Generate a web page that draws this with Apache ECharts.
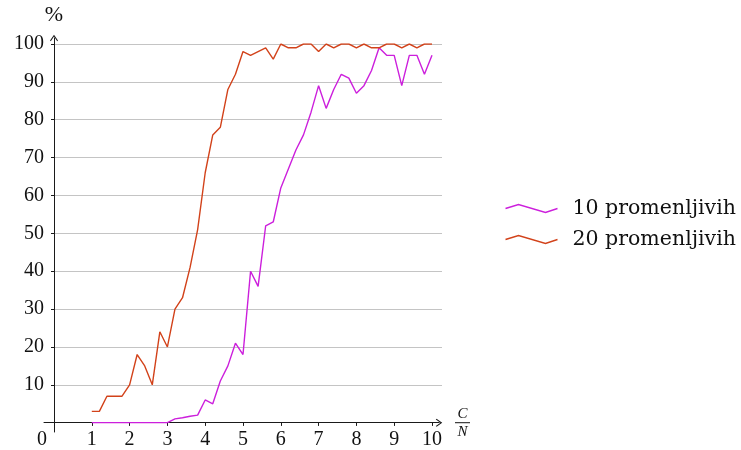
<!DOCTYPE html>
<html>
<head>
<meta charset="utf-8">
<script src="https://cdn.jsdelivr.net/npm/echarts@6/dist/echarts.min.js"></script>
<style>
  html, body { margin: 0; padding: 0; background: #fff; }
  #chart { width: 741px; height: 450px; }
</style>
</head>
<body>
<div id="chart"></div>
<script>
// Ratio of clauses to variables (C/N)
const ratio = [1.0, 1.2, 1.4, 1.6, 1.8, 2.0, 2.2, 2.4, 2.6, 2.8,
               3.0, 3.2, 3.4, 3.6, 3.8, 4.0, 4.2, 4.4, 4.6, 4.8,
               5.0, 5.2, 5.4, 5.6, 5.8, 6.0, 6.2, 6.4, 6.6, 6.8,
               7.0, 7.2, 7.4, 7.6, 7.8, 8.0, 8.2, 8.4, 8.6, 8.8,
               9.0, 9.2, 9.4, 9.6, 9.8, 10.0];

// Percentage for 10 variables
const vars10 = [0, 0, 0, 0, 0, 0, 0, 0, 0, 0,
                0, 1, 1.3, 1.7, 2, 6, 5, 11, 15, 21,
                18, 40, 36, 52, 53, 62, 67, 72, 76, 82,
                89, 83, 88, 92, 91, 87, 89, 93, 99, 97,
                97, 89, 97, 97, 92, 97];

// Percentage for 20 variables
const vars20 = [3, 3, 7, 7, 7, 10, 18, 15, 10, 24,
                20, 30, 33, 41, 51, 66, 76, 78, 88, 92,
                98, 97, 98, 99, 96, 100, 99, 99, 100, 100,
                98, 100, 99, 100, 100, 99, 100, 99, 99, 100,
                100, 99, 100, 99, 100, 100];

const seriesNames = ['10 promenljivih', '20 promenljivih'];
const seriesColors = ['#cc1fdc', '#d2421a'];

const xRange = [0, 10];
const yRange = [0, 100];
const xStep = 1;
const yStep = 10;

// Layout in pixels
const plotLeft = 54, plotRight = 432, plotTop = 44, plotBottom = 422.7;
const axisXStart = 44, axisXEnd = 439;      // horizontal axis line extent
const axisYStart = 432, axisYEnd = 38;      // vertical axis line extent (bottom, top)
const gridExtraRight = 442;                 // grid lines run a little past the last tick

const pxPerX = (plotRight - plotLeft) / (xRange[1] - xRange[0]);
const pxPerY = (plotBottom - plotTop) / (yRange[1] - yRange[0]);

const font = '"Liberation Serif", "DejaVu Serif", serif';
const legendFont = '"DejaVu Serif", "Liberation Serif", serif';
const textColor = '#111';
const axisColor = '#1a1a1a';

const pairs = (ys) => ratio.map((x, i) => [x, ys[i]]);

// Open chevron used as arrow head
const arrowHead = 'path://M5,0 L10,7 L9,8 L5,2.2 L1,8 L0,7 Z';

const chart = echarts.init(document.getElementById('chart'), null, { renderer: 'canvas' });

const option = {
  animation: false,
  backgroundColor: '#fff',
  grid: [
    { left: plotLeft, top: plotTop, width: plotRight - plotLeft, height: plotBottom - plotTop, outerBoundsMode: 'none' },
    { left: plotLeft, top: plotTop, width: gridExtraRight - plotLeft, height: plotBottom - plotTop, outerBoundsMode: 'none' },
    { left: axisXStart, top: axisYEnd, width: axisXEnd - axisXStart, height: axisYStart - axisYEnd, outerBoundsMode: 'none' }
  ],
  xAxis: [
    {
      gridIndex: 0, type: 'value', min: xRange[0], max: xRange[1], interval: xStep,
      axisLine: { show: false },
      axisTick: { show: true, inside: false, length: 3, lineStyle: { color: axisColor, width: 1 } },
      axisLabel: {
        show: true, margin: 7, color: textColor, fontFamily: font, fontSize: 20,
        formatter: (v) => v === 0 ? '{z|0}' : String(v),
        rich: { z: { padding: [0, 24, 0, 0], fontFamily: font, fontSize: 20, color: textColor } }
      },
      splitLine: { show: false }
    },
    {
      gridIndex: 0, type: 'value', min: xRange[0], max: xRange[1], interval: xStep,
      axisLine: { show: false },
      axisTick: { show: true, inside: true, length: 3, lineStyle: { color: axisColor, width: 1 } },
      axisLabel: { show: false }, splitLine: { show: false }
    },
    {
      gridIndex: 1, type: 'value', min: xRange[0],
      max: xRange[0] + (gridExtraRight - plotLeft) / pxPerX,
      show: false
    },
    {
      gridIndex: 2, type: 'value',
      min: xRange[0] - (plotLeft - axisXStart) / pxPerX,
      max: xRange[0] + (axisXEnd - plotLeft) / pxPerX,
      axisLine: {
        show: true, onZero: true, symbol: ['none', arrowHead], symbolSize: [8, 8],
        lineStyle: { color: axisColor, width: 1 }
      },
      axisTick: { show: false }, axisLabel: { show: false }, splitLine: { show: false },
      name: '{c|C}\n{bar|}\n{n|N}',
      nameLocation: 'end', nameGap: 16,
      nameTextStyle: {
        align: 'left', verticalAlign: 'middle',
        rich: {
          c: { fontFamily: font, fontStyle: 'italic', fontSize: 15, color: textColor, align: 'center', lineHeight: 14 },
          bar: { width: 15, height: 1, backgroundColor: textColor, lineHeight: 4, align: 'center' },
          n: { fontFamily: font, fontStyle: 'italic', fontSize: 15, color: textColor, align: 'center', lineHeight: 14 }
        }
      }
    }
  ],
  yAxis: [
    {
      gridIndex: 0, type: 'value', min: yRange[0], max: yRange[1], interval: yStep,
      axisLine: { show: false },
      axisTick: { show: true, inside: false, length: 3, lineStyle: { color: axisColor, width: 1 } },
      axisLabel: {
        show: true, margin: 10, color: textColor, fontFamily: font, fontSize: 20,
        formatter: (v) => v === 0 ? '' : String(v)
      },
      splitLine: { show: false }
    },
    {
      gridIndex: 0, type: 'value', min: yRange[0], max: yRange[1], interval: yStep,
      axisLine: { show: false },
      axisTick: { show: true, inside: true, length: 3, lineStyle: { color: axisColor, width: 1 } },
      axisLabel: { show: false }, splitLine: { show: false }
    },
    {
      gridIndex: 1, type: 'value', min: yRange[0], max: yRange[1], interval: yStep,
      axisLine: { show: false }, axisTick: { show: false }, axisLabel: { show: false },
      splitLine: { show: true, lineStyle: { color: '#c4c4c4', width: 1 } }
    },
    {
      gridIndex: 2, type: 'value',
      min: yRange[0] - (axisYStart - plotBottom) / pxPerY,
      max: yRange[0] + (plotBottom - axisYEnd) / pxPerY,
      axisLine: {
        show: true, onZero: true, symbol: ['none', arrowHead], symbolSize: [8, 8],
        lineStyle: { color: axisColor, width: 1 }
      },
      axisTick: { show: false }, axisLabel: { show: false }, splitLine: { show: false },
      name: '%', nameLocation: 'end', nameGap: 12,
      nameTextStyle: { fontFamily: font, fontSize: 22, color: textColor, align: 'center', verticalAlign: 'bottom' }
    }
  ],
  legend: {
    orient: 'vertical',
    left: 503, top: 198, padding: 0,
    itemWidth: 54, itemHeight: 8, itemGap: 10,
    selectedMode: false,
    textStyle: { fontFamily: legendFont, fontSize: 20.5, color: textColor, padding: [0, 0, 0, 9] },
    data: seriesNames.map((name, i) => ({
      name: name,
      icon: 'path://M0,4 L13,0 L40,8 L52,4 L40,8 L13,0 Z',
      itemStyle: { color: 'none', borderColor: seriesColors[i], borderWidth: 1.4 }
    }))
  },
  series: [
    {
      name: seriesNames[0], type: 'line', xAxisIndex: 0, yAxisIndex: 0,
      data: pairs(vars10), showSymbol: false, symbol: 'none',
      color: seriesColors[0],
      lineStyle: { color: seriesColors[0], width: 1.4 }, z: 3
    },
    {
      name: seriesNames[1], type: 'line', xAxisIndex: 0, yAxisIndex: 0,
      data: pairs(vars20), showSymbol: false, symbol: 'none',
      color: seriesColors[1],
      lineStyle: { color: seriesColors[1], width: 1.4 }, z: 3
    }
  ]
};

chart.setOption(option);
</script>
</body>
</html>
